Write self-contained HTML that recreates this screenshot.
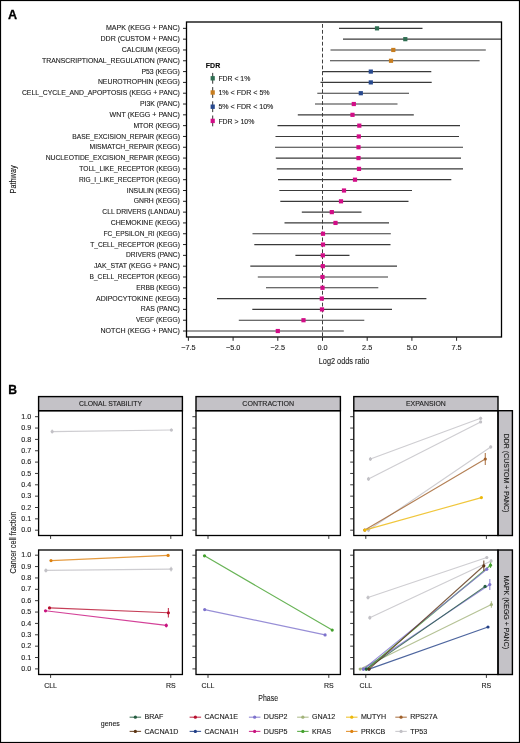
<!DOCTYPE html>
<html><head><meta charset="utf-8"><style>
html,body{margin:0;padding:0;background:#fff;width:520px;height:743px;overflow:hidden}
svg text{font-family:"Liberation Sans", sans-serif;stroke:#1c1c1c;stroke-width:0.12px}
</style></head><body>
<div style="will-change:transform;width:520px;height:743px"><svg width="520" height="743" viewBox="0 0 520 743" style="display:block">
<rect x="0.50" y="0.50" width="519.00" height="742.00" fill="none" stroke="#000" stroke-width="1.2"/>
<text x="8.00" y="18.80" font-size="13.3" text-anchor="start" fill="#000" font-weight="bold" textLength="9.1" lengthAdjust="spacingAndGlyphs" style="stroke:#000;stroke-width:0.3px">A</text>
<line x1="322.5" y1="24.0" x2="322.5" y2="337.0" stroke="#404040" stroke-width="1" stroke-dasharray="3.8 2.13"/>
<line x1="183.00" y1="28.35" x2="186.50" y2="28.35" stroke="#222" stroke-width="1"/>
<text x="179.90" y="30.40" font-size="7.3" text-anchor="end" fill="#1c1c1c" textLength="73.9" lengthAdjust="spacingAndGlyphs">MAPK (KEGG + PANC)</text>
<line x1="339.00" y1="28.35" x2="422.50" y2="28.35" stroke="#3a3a3a" stroke-width="1.15"/>
<rect x="374.90" y="26.25" width="4.20" height="4.20" fill="#2f6e52" stroke="none" stroke-width="1"/>
<line x1="183.00" y1="39.16" x2="186.50" y2="39.16" stroke="#222" stroke-width="1"/>
<text x="179.90" y="41.21" font-size="7.3" text-anchor="end" fill="#1c1c1c" textLength="79.4" lengthAdjust="spacingAndGlyphs">DDR (CUSTOM + PANC)</text>
<line x1="343.00" y1="39.16" x2="501.50" y2="39.16" stroke="#3a3a3a" stroke-width="1.15"/>
<rect x="403.20" y="37.06" width="4.20" height="4.20" fill="#2f6e52" stroke="none" stroke-width="1"/>
<line x1="183.00" y1="49.97" x2="186.50" y2="49.97" stroke="#222" stroke-width="1"/>
<text x="179.90" y="52.02" font-size="7.3" text-anchor="end" fill="#1c1c1c" textLength="58.2" lengthAdjust="spacingAndGlyphs">CALCIUM (KEGG)</text>
<line x1="330.50" y1="49.97" x2="485.80" y2="49.97" stroke="#3a3a3a" stroke-width="1.15"/>
<rect x="391.20" y="47.87" width="4.20" height="4.20" fill="#c77d1f" stroke="none" stroke-width="1"/>
<line x1="183.00" y1="60.78" x2="186.50" y2="60.78" stroke="#222" stroke-width="1"/>
<text x="179.90" y="62.83" font-size="7.3" text-anchor="end" fill="#1c1c1c" textLength="137.9" lengthAdjust="spacingAndGlyphs">TRANSCRIPTIONAL_REGULATION (PANC)</text>
<line x1="330.00" y1="60.78" x2="479.60" y2="60.78" stroke="#3a3a3a" stroke-width="1.15"/>
<rect x="388.90" y="58.68" width="4.20" height="4.20" fill="#c77d1f" stroke="none" stroke-width="1"/>
<line x1="183.00" y1="71.59" x2="186.50" y2="71.59" stroke="#222" stroke-width="1"/>
<text x="179.90" y="73.64" font-size="7.3" text-anchor="end" fill="#1c1c1c" textLength="38.5" lengthAdjust="spacingAndGlyphs">P53 (KEGG)</text>
<line x1="322.20" y1="71.59" x2="431.30" y2="71.59" stroke="#3a3a3a" stroke-width="1.15"/>
<rect x="368.70" y="69.49" width="4.20" height="4.20" fill="#27498e" stroke="none" stroke-width="1"/>
<line x1="183.00" y1="82.40" x2="186.50" y2="82.40" stroke="#222" stroke-width="1"/>
<text x="179.90" y="84.45" font-size="7.3" text-anchor="end" fill="#1c1c1c" textLength="82.0" lengthAdjust="spacingAndGlyphs">NEUROTROPHIN (KEGG)</text>
<line x1="320.50" y1="82.40" x2="431.70" y2="82.40" stroke="#3a3a3a" stroke-width="1.15"/>
<rect x="368.70" y="80.30" width="4.20" height="4.20" fill="#27498e" stroke="none" stroke-width="1"/>
<line x1="183.00" y1="93.21" x2="186.50" y2="93.21" stroke="#222" stroke-width="1"/>
<text x="179.90" y="95.26" font-size="7.3" text-anchor="end" fill="#1c1c1c" textLength="158.0" lengthAdjust="spacingAndGlyphs">CELL_CYCLE_AND_APOPTOSIS (KEGG + PANC)</text>
<line x1="317.30" y1="93.21" x2="409.00" y2="93.21" stroke="#3a3a3a" stroke-width="1.15"/>
<rect x="358.70" y="91.11" width="4.20" height="4.20" fill="#27498e" stroke="none" stroke-width="1"/>
<line x1="183.00" y1="104.02" x2="186.50" y2="104.02" stroke="#222" stroke-width="1"/>
<text x="179.90" y="106.07" font-size="7.3" text-anchor="end" fill="#1c1c1c" textLength="40.0" lengthAdjust="spacingAndGlyphs">PI3K (PANC)</text>
<line x1="315.00" y1="104.02" x2="397.50" y2="104.02" stroke="#3a3a3a" stroke-width="1.15"/>
<rect x="351.70" y="101.92" width="4.20" height="4.20" fill="#d20d87" stroke="none" stroke-width="1"/>
<line x1="183.00" y1="114.83" x2="186.50" y2="114.83" stroke="#222" stroke-width="1"/>
<text x="179.90" y="116.88" font-size="7.3" text-anchor="end" fill="#1c1c1c" textLength="70.3" lengthAdjust="spacingAndGlyphs">WNT (KEGG + PANC)</text>
<line x1="297.80" y1="114.83" x2="413.80" y2="114.83" stroke="#3a3a3a" stroke-width="1.15"/>
<rect x="350.40" y="112.73" width="4.20" height="4.20" fill="#d20d87" stroke="none" stroke-width="1"/>
<line x1="183.00" y1="125.64" x2="186.50" y2="125.64" stroke="#222" stroke-width="1"/>
<text x="179.90" y="127.69" font-size="7.3" text-anchor="end" fill="#1c1c1c" textLength="46.5" lengthAdjust="spacingAndGlyphs">MTOR (KEGG)</text>
<line x1="277.50" y1="125.64" x2="460.00" y2="125.64" stroke="#3a3a3a" stroke-width="1.15"/>
<rect x="357.20" y="123.54" width="4.20" height="4.20" fill="#d20d87" stroke="none" stroke-width="1"/>
<line x1="183.00" y1="136.45" x2="186.50" y2="136.45" stroke="#222" stroke-width="1"/>
<text x="179.90" y="138.50" font-size="7.3" text-anchor="end" fill="#1c1c1c" textLength="107.6" lengthAdjust="spacingAndGlyphs">BASE_EXCISION_REPAIR (KEGG)</text>
<line x1="275.50" y1="136.45" x2="459.00" y2="136.45" stroke="#3a3a3a" stroke-width="1.15"/>
<rect x="356.70" y="134.35" width="4.20" height="4.20" fill="#d20d87" stroke="none" stroke-width="1"/>
<line x1="183.00" y1="147.26" x2="186.50" y2="147.26" stroke="#222" stroke-width="1"/>
<text x="179.90" y="149.31" font-size="7.3" text-anchor="end" fill="#1c1c1c" textLength="90.4" lengthAdjust="spacingAndGlyphs">MISMATCH_REPAIR (KEGG)</text>
<line x1="275.00" y1="147.26" x2="463.00" y2="147.26" stroke="#3a3a3a" stroke-width="1.15"/>
<rect x="356.40" y="145.16" width="4.20" height="4.20" fill="#d20d87" stroke="none" stroke-width="1"/>
<line x1="183.00" y1="158.07" x2="186.50" y2="158.07" stroke="#222" stroke-width="1"/>
<text x="179.90" y="160.12" font-size="7.3" text-anchor="end" fill="#1c1c1c" textLength="134.2" lengthAdjust="spacingAndGlyphs">NUCLEOTIDE_EXCISION_REPAIR (KEGG)</text>
<line x1="275.80" y1="158.07" x2="461.00" y2="158.07" stroke="#3a3a3a" stroke-width="1.15"/>
<rect x="356.40" y="155.97" width="4.20" height="4.20" fill="#d20d87" stroke="none" stroke-width="1"/>
<line x1="183.00" y1="168.88" x2="186.50" y2="168.88" stroke="#222" stroke-width="1"/>
<text x="179.90" y="170.93" font-size="7.3" text-anchor="end" fill="#1c1c1c" textLength="100.6" lengthAdjust="spacingAndGlyphs">TOLL_LIKE_RECEPTOR (KEGG)</text>
<line x1="276.80" y1="168.88" x2="463.00" y2="168.88" stroke="#3a3a3a" stroke-width="1.15"/>
<rect x="356.90" y="166.78" width="4.20" height="4.20" fill="#d20d87" stroke="none" stroke-width="1"/>
<line x1="183.00" y1="179.69" x2="186.50" y2="179.69" stroke="#222" stroke-width="1"/>
<text x="179.90" y="181.74" font-size="7.3" text-anchor="end" fill="#1c1c1c" textLength="101.0" lengthAdjust="spacingAndGlyphs">RIG_I_LIKE_RECEPTOR (KEGG)</text>
<line x1="278.00" y1="179.69" x2="451.30" y2="179.69" stroke="#3a3a3a" stroke-width="1.15"/>
<rect x="352.90" y="177.59" width="4.20" height="4.20" fill="#d20d87" stroke="none" stroke-width="1"/>
<line x1="183.00" y1="190.50" x2="186.50" y2="190.50" stroke="#222" stroke-width="1"/>
<text x="179.90" y="192.55" font-size="7.3" text-anchor="end" fill="#1c1c1c" textLength="53.1" lengthAdjust="spacingAndGlyphs">INSULIN (KEGG)</text>
<line x1="279.30" y1="190.50" x2="412.00" y2="190.50" stroke="#3a3a3a" stroke-width="1.15"/>
<rect x="341.90" y="188.40" width="4.20" height="4.20" fill="#d20d87" stroke="none" stroke-width="1"/>
<line x1="183.00" y1="201.31" x2="186.50" y2="201.31" stroke="#222" stroke-width="1"/>
<text x="179.90" y="203.36" font-size="7.3" text-anchor="end" fill="#1c1c1c" textLength="46.2" lengthAdjust="spacingAndGlyphs">GNRH (KEGG)</text>
<line x1="280.30" y1="201.31" x2="408.50" y2="201.31" stroke="#3a3a3a" stroke-width="1.15"/>
<rect x="338.90" y="199.21" width="4.20" height="4.20" fill="#d20d87" stroke="none" stroke-width="1"/>
<line x1="183.00" y1="212.12" x2="186.50" y2="212.12" stroke="#222" stroke-width="1"/>
<text x="179.90" y="214.17" font-size="7.3" text-anchor="end" fill="#1c1c1c" textLength="77.6" lengthAdjust="spacingAndGlyphs">CLL DRIVERS (LANDAU)</text>
<line x1="301.80" y1="212.12" x2="361.50" y2="212.12" stroke="#3a3a3a" stroke-width="1.15"/>
<rect x="329.70" y="210.02" width="4.20" height="4.20" fill="#d20d87" stroke="none" stroke-width="1"/>
<line x1="183.00" y1="222.93" x2="186.50" y2="222.93" stroke="#222" stroke-width="1"/>
<text x="179.90" y="224.98" font-size="7.3" text-anchor="end" fill="#1c1c1c" textLength="69.2" lengthAdjust="spacingAndGlyphs">CHEMOKINE (KEGG)</text>
<line x1="284.50" y1="222.93" x2="389.00" y2="222.93" stroke="#3a3a3a" stroke-width="1.15"/>
<rect x="333.40" y="220.83" width="4.20" height="4.20" fill="#d20d87" stroke="none" stroke-width="1"/>
<line x1="183.00" y1="233.74" x2="186.50" y2="233.74" stroke="#222" stroke-width="1"/>
<text x="179.90" y="235.79" font-size="7.3" text-anchor="end" fill="#1c1c1c" textLength="76.5" lengthAdjust="spacingAndGlyphs">FC_EPSILON_RI (KEGG)</text>
<line x1="252.50" y1="233.74" x2="390.80" y2="233.74" stroke="#3a3a3a" stroke-width="1.15"/>
<rect x="320.90" y="231.64" width="4.20" height="4.20" fill="#d20d87" stroke="none" stroke-width="1"/>
<line x1="183.00" y1="244.55" x2="186.50" y2="244.55" stroke="#222" stroke-width="1"/>
<text x="179.90" y="246.60" font-size="7.3" text-anchor="end" fill="#1c1c1c" textLength="89.7" lengthAdjust="spacingAndGlyphs">T_CELL_RECEPTOR (KEGG)</text>
<line x1="254.30" y1="244.55" x2="390.50" y2="244.55" stroke="#3a3a3a" stroke-width="1.15"/>
<rect x="320.90" y="242.45" width="4.20" height="4.20" fill="#d20d87" stroke="none" stroke-width="1"/>
<line x1="183.00" y1="255.36" x2="186.50" y2="255.36" stroke="#222" stroke-width="1"/>
<text x="179.90" y="257.41" font-size="7.3" text-anchor="end" fill="#1c1c1c" textLength="53.9" lengthAdjust="spacingAndGlyphs">DRIVERS (PANC)</text>
<line x1="295.40" y1="255.36" x2="349.50" y2="255.36" stroke="#3a3a3a" stroke-width="1.15"/>
<rect x="320.70" y="253.26" width="4.20" height="4.20" fill="#d20d87" stroke="none" stroke-width="1"/>
<line x1="183.00" y1="266.17" x2="186.50" y2="266.17" stroke="#222" stroke-width="1"/>
<text x="179.90" y="268.22" font-size="7.3" text-anchor="end" fill="#1c1c1c" textLength="86.0" lengthAdjust="spacingAndGlyphs">JAK_STAT (KEGG + PANC)</text>
<line x1="250.30" y1="266.17" x2="397.00" y2="266.17" stroke="#3a3a3a" stroke-width="1.15"/>
<rect x="320.70" y="264.07" width="4.20" height="4.20" fill="#d20d87" stroke="none" stroke-width="1"/>
<line x1="183.00" y1="276.98" x2="186.50" y2="276.98" stroke="#222" stroke-width="1"/>
<text x="179.90" y="279.03" font-size="7.3" text-anchor="end" fill="#1c1c1c" textLength="90.4" lengthAdjust="spacingAndGlyphs">B_CELL_RECEPTOR (KEGG)</text>
<line x1="257.80" y1="276.98" x2="388.00" y2="276.98" stroke="#3a3a3a" stroke-width="1.15"/>
<rect x="320.40" y="274.88" width="4.20" height="4.20" fill="#d20d87" stroke="none" stroke-width="1"/>
<line x1="183.00" y1="287.79" x2="186.50" y2="287.79" stroke="#222" stroke-width="1"/>
<text x="179.90" y="289.84" font-size="7.3" text-anchor="end" fill="#1c1c1c" textLength="43.6" lengthAdjust="spacingAndGlyphs">ERBB (KEGG)</text>
<line x1="266.00" y1="287.79" x2="378.30" y2="287.79" stroke="#3a3a3a" stroke-width="1.15"/>
<rect x="320.40" y="285.69" width="4.20" height="4.20" fill="#d20d87" stroke="none" stroke-width="1"/>
<line x1="183.00" y1="298.60" x2="186.50" y2="298.60" stroke="#222" stroke-width="1"/>
<text x="179.90" y="300.65" font-size="7.3" text-anchor="end" fill="#1c1c1c" textLength="83.8" lengthAdjust="spacingAndGlyphs">ADIPOCYTOKINE (KEGG)</text>
<line x1="217.00" y1="298.60" x2="426.40" y2="298.60" stroke="#3a3a3a" stroke-width="1.15"/>
<rect x="319.70" y="296.50" width="4.20" height="4.20" fill="#d20d87" stroke="none" stroke-width="1"/>
<line x1="183.00" y1="309.41" x2="186.50" y2="309.41" stroke="#222" stroke-width="1"/>
<text x="179.90" y="311.46" font-size="7.3" text-anchor="end" fill="#1c1c1c" textLength="39.2" lengthAdjust="spacingAndGlyphs">RAS (PANC)</text>
<line x1="252.30" y1="309.41" x2="392.00" y2="309.41" stroke="#3a3a3a" stroke-width="1.15"/>
<rect x="319.90" y="307.31" width="4.20" height="4.20" fill="#d20d87" stroke="none" stroke-width="1"/>
<line x1="183.00" y1="320.22" x2="186.50" y2="320.22" stroke="#222" stroke-width="1"/>
<text x="179.90" y="322.27" font-size="7.3" text-anchor="end" fill="#1c1c1c" textLength="44.0" lengthAdjust="spacingAndGlyphs">VEGF (KEGG)</text>
<line x1="238.80" y1="320.22" x2="364.30" y2="320.22" stroke="#3a3a3a" stroke-width="1.15"/>
<rect x="301.40" y="318.12" width="4.20" height="4.20" fill="#d20d87" stroke="none" stroke-width="1"/>
<line x1="183.00" y1="331.03" x2="186.50" y2="331.03" stroke="#222" stroke-width="1"/>
<text x="179.90" y="333.08" font-size="7.3" text-anchor="end" fill="#1c1c1c" textLength="79.4" lengthAdjust="spacingAndGlyphs">NOTCH (KEGG + PANC)</text>
<line x1="186.50" y1="331.03" x2="343.80" y2="331.03" stroke="#3a3a3a" stroke-width="1.15"/>
<rect x="275.70" y="328.93" width="4.20" height="4.20" fill="#d20d87" stroke="none" stroke-width="1"/>
<rect x="186.50" y="22.00" width="315.00" height="315.00" fill="none" stroke="#000" stroke-width="1.3"/>
<line x1="188.40" y1="337.00" x2="188.40" y2="340.80" stroke="#222" stroke-width="1"/>
<text x="188.40" y="350.30" font-size="7.3" text-anchor="middle" fill="#1c1c1c">−7.5</text>
<line x1="233.10" y1="337.00" x2="233.10" y2="340.80" stroke="#222" stroke-width="1"/>
<text x="233.10" y="350.30" font-size="7.3" text-anchor="middle" fill="#1c1c1c">−5.0</text>
<line x1="277.80" y1="337.00" x2="277.80" y2="340.80" stroke="#222" stroke-width="1"/>
<text x="277.80" y="350.30" font-size="7.3" text-anchor="middle" fill="#1c1c1c">−2.5</text>
<line x1="322.50" y1="337.00" x2="322.50" y2="340.80" stroke="#222" stroke-width="1"/>
<text x="322.50" y="350.30" font-size="7.3" text-anchor="middle" fill="#1c1c1c">0.0</text>
<line x1="367.20" y1="337.00" x2="367.20" y2="340.80" stroke="#222" stroke-width="1"/>
<text x="367.20" y="350.30" font-size="7.3" text-anchor="middle" fill="#1c1c1c">2.5</text>
<line x1="411.90" y1="337.00" x2="411.90" y2="340.80" stroke="#222" stroke-width="1"/>
<text x="411.90" y="350.30" font-size="7.3" text-anchor="middle" fill="#1c1c1c">5.0</text>
<line x1="456.60" y1="337.00" x2="456.60" y2="340.80" stroke="#222" stroke-width="1"/>
<text x="456.60" y="350.30" font-size="7.3" text-anchor="middle" fill="#1c1c1c">7.5</text>
<text x="344.00" y="363.60" font-size="9.5" text-anchor="middle" fill="#1c1c1c" textLength="50.5" lengthAdjust="spacingAndGlyphs">Log2 odds ratio</text>
<text x="16.30" y="179.40" font-size="9.5" text-anchor="middle" fill="#1c1c1c" textLength="28" lengthAdjust="spacingAndGlyphs" transform="rotate(-90 16.30 179.40)">Pathway</text>
<text x="205.80" y="67.50" font-size="7" text-anchor="start" fill="#000" font-weight="bold">FDR</text>
<line x1="212.70" y1="72.90" x2="212.70" y2="83.70" stroke="#333" stroke-width="1"/>
<rect x="210.60" y="76.10" width="4.20" height="4.40" fill="#2f6e52" stroke="none" stroke-width="1"/>
<text x="218.40" y="80.90" font-size="7.3" text-anchor="start" fill="#1c1c1c" textLength="31.9" lengthAdjust="spacingAndGlyphs">FDR &lt; 1%</text>
<line x1="212.70" y1="87.10" x2="212.70" y2="97.90" stroke="#333" stroke-width="1"/>
<rect x="210.60" y="90.30" width="4.20" height="4.40" fill="#c77d1f" stroke="none" stroke-width="1"/>
<text x="218.40" y="95.10" font-size="7.3" text-anchor="start" fill="#1c1c1c" textLength="51.3" lengthAdjust="spacingAndGlyphs">1% &lt; FDR &lt; 5%</text>
<line x1="212.70" y1="101.30" x2="212.70" y2="112.10" stroke="#333" stroke-width="1"/>
<rect x="210.60" y="104.50" width="4.20" height="4.40" fill="#27498e" stroke="none" stroke-width="1"/>
<text x="218.40" y="109.30" font-size="7.3" text-anchor="start" fill="#1c1c1c" textLength="55.0" lengthAdjust="spacingAndGlyphs">5% &lt; FDR &lt; 10%</text>
<line x1="212.70" y1="115.50" x2="212.70" y2="126.30" stroke="#333" stroke-width="1"/>
<rect x="210.60" y="118.70" width="4.20" height="4.40" fill="#d20d87" stroke="none" stroke-width="1"/>
<text x="218.40" y="123.50" font-size="7.3" text-anchor="start" fill="#1c1c1c" textLength="36.0" lengthAdjust="spacingAndGlyphs">FDR &gt; 10%</text>
<text x="8.20" y="393.70" font-size="13.3" text-anchor="start" fill="#000" font-weight="bold" textLength="8.8" lengthAdjust="spacingAndGlyphs" style="stroke:#000;stroke-width:0.3px">B</text>
<rect x="38.60" y="396.60" width="143.80" height="14.10" fill="#c4c2c7" stroke="#000" stroke-width="1.4"/>
<text x="110.50" y="405.90" font-size="7.3" text-anchor="middle" fill="#1c1c1c" textLength="63" lengthAdjust="spacingAndGlyphs">CLONAL STABILITY</text>
<rect x="196.00" y="396.60" width="144.40" height="14.10" fill="#c4c2c7" stroke="#000" stroke-width="1.4"/>
<text x="268.20" y="405.90" font-size="7.3" text-anchor="middle" fill="#1c1c1c" textLength="51.8" lengthAdjust="spacingAndGlyphs">CONTRACTION</text>
<rect x="353.80" y="396.60" width="144.20" height="14.10" fill="#c4c2c7" stroke="#000" stroke-width="1.4"/>
<text x="425.90" y="405.90" font-size="7.3" text-anchor="middle" fill="#1c1c1c" textLength="39.9" lengthAdjust="spacingAndGlyphs">EXPANSION</text>
<rect x="498.00" y="410.70" width="14.40" height="124.80" fill="#c4c2c7" stroke="#000" stroke-width="1.4"/>
<text x="503.80" y="473.10" font-size="7.3" text-anchor="middle" fill="#1c1c1c" textLength="78.6" lengthAdjust="spacingAndGlyphs" transform="rotate(90 503.80 473.10)">DDR (CUSTOM + PANC)</text>
<rect x="498.00" y="550.00" width="14.40" height="124.50" fill="#c4c2c7" stroke="#000" stroke-width="1.4"/>
<text x="503.80" y="612.25" font-size="7.3" text-anchor="middle" fill="#1c1c1c" textLength="73.7" lengthAdjust="spacingAndGlyphs" transform="rotate(90 503.80 612.25)">MAPK (KEGG + PANC)</text>
<line x1="52.20" y1="431.60" x2="171.40" y2="430.00" stroke="#c2c1c6" stroke-width="1.15" stroke-linecap="round" stroke-opacity="0.8"/>
<line x1="171.40" y1="428.50" x2="171.40" y2="431.50" stroke="#c2c1c6" stroke-width="1.15" stroke-opacity="0.8"/>
<line x1="52.20" y1="429.60" x2="52.20" y2="433.60" stroke="#c2c1c6" stroke-width="1.15" stroke-opacity="0.8"/>
<circle cx="52.20" cy="431.60" r="1.6" fill="#c2c1c6"/>
<circle cx="171.40" cy="430.00" r="1.6" fill="#c2c1c6"/>
<line x1="370.40" y1="459.00" x2="480.60" y2="418.30" stroke="#c2c1c6" stroke-width="1.15" stroke-linecap="round" stroke-opacity="0.8"/>
<line x1="480.60" y1="416.80" x2="480.60" y2="419.80" stroke="#c2c1c6" stroke-width="1.15" stroke-opacity="0.8"/>
<line x1="370.40" y1="457.00" x2="370.40" y2="461.00" stroke="#c2c1c6" stroke-width="1.15" stroke-opacity="0.8"/>
<circle cx="370.40" cy="459.00" r="1.6" fill="#c2c1c6"/>
<circle cx="480.60" cy="418.30" r="1.6" fill="#c2c1c6"/>
<line x1="368.50" y1="478.90" x2="480.60" y2="421.90" stroke="#c2c1c6" stroke-width="1.15" stroke-linecap="round" stroke-opacity="0.8"/>
<line x1="480.60" y1="420.90" x2="480.60" y2="422.90" stroke="#c2c1c6" stroke-width="1.15" stroke-opacity="0.8"/>
<line x1="368.50" y1="476.90" x2="368.50" y2="480.90" stroke="#c2c1c6" stroke-width="1.15" stroke-opacity="0.8"/>
<circle cx="368.50" cy="478.90" r="1.6" fill="#c2c1c6"/>
<circle cx="480.60" cy="421.90" r="1.6" fill="#c2c1c6"/>
<line x1="368.50" y1="530.10" x2="490.70" y2="446.90" stroke="#c2c1c6" stroke-width="1.15" stroke-linecap="round" stroke-opacity="0.8"/>
<line x1="490.70" y1="445.40" x2="490.70" y2="448.40" stroke="#c2c1c6" stroke-width="1.15" stroke-opacity="0.8"/>
<line x1="368.50" y1="528.10" x2="368.50" y2="532.10" stroke="#c2c1c6" stroke-width="1.15" stroke-opacity="0.8"/>
<circle cx="368.50" cy="530.10" r="1.6" fill="#c2c1c6"/>
<circle cx="490.70" cy="446.90" r="1.6" fill="#c2c1c6"/>
<line x1="364.80" y1="530.10" x2="485.30" y2="459.00" stroke="#a0602a" stroke-width="1.15" stroke-linecap="round" stroke-opacity="0.8"/>
<line x1="485.30" y1="453.00" x2="485.30" y2="465.00" stroke="#a0602a" stroke-width="1.15" stroke-opacity="0.8"/>
<circle cx="364.80" cy="530.10" r="1.6" fill="#a0602a"/>
<circle cx="485.30" cy="459.00" r="1.6" fill="#a0602a"/>
<line x1="364.80" y1="530.10" x2="481.40" y2="497.60" stroke="#ecb80a" stroke-width="1.15" stroke-linecap="round" stroke-opacity="0.8"/>
<circle cx="364.80" cy="530.10" r="1.6" fill="#ecb80a"/>
<circle cx="481.40" cy="497.60" r="1.6" fill="#ecb80a"/>
<line x1="51.00" y1="560.60" x2="168.10" y2="555.40" stroke="#de8210" stroke-width="1.15" stroke-linecap="round" stroke-opacity="0.8"/>
<circle cx="51.00" cy="560.60" r="1.6" fill="#de8210"/>
<circle cx="168.10" cy="555.40" r="1.6" fill="#de8210"/>
<line x1="45.90" y1="570.40" x2="171.10" y2="569.10" stroke="#c2c1c6" stroke-width="1.15" stroke-linecap="round" stroke-opacity="0.8"/>
<line x1="171.10" y1="566.70" x2="171.10" y2="571.50" stroke="#c2c1c6" stroke-width="1.15" stroke-opacity="0.8"/>
<line x1="45.90" y1="568.40" x2="45.90" y2="572.40" stroke="#c2c1c6" stroke-width="1.15" stroke-opacity="0.8"/>
<circle cx="45.90" cy="570.40" r="1.6" fill="#c2c1c6"/>
<circle cx="171.10" cy="569.10" r="1.6" fill="#c2c1c6"/>
<line x1="49.50" y1="607.90" x2="168.40" y2="612.80" stroke="#b80f2e" stroke-width="1.15" stroke-linecap="round" stroke-opacity="0.8"/>
<line x1="168.40" y1="608.00" x2="168.40" y2="617.60" stroke="#b80f2e" stroke-width="1.15" stroke-opacity="0.8"/>
<circle cx="49.50" cy="607.90" r="1.6" fill="#b80f2e"/>
<circle cx="168.40" cy="612.80" r="1.6" fill="#b80f2e"/>
<line x1="45.50" y1="610.80" x2="166.30" y2="625.40" stroke="#c8127e" stroke-width="1.15" stroke-linecap="round" stroke-opacity="0.8"/>
<line x1="166.30" y1="623.40" x2="166.30" y2="627.40" stroke="#c8127e" stroke-width="1.15" stroke-opacity="0.8"/>
<circle cx="45.50" cy="610.80" r="1.6" fill="#c8127e"/>
<circle cx="166.30" cy="625.40" r="1.6" fill="#c8127e"/>
<line x1="204.50" y1="555.80" x2="332.20" y2="630.10" stroke="#42a02c" stroke-width="1.15" stroke-linecap="round" stroke-opacity="0.8"/>
<circle cx="204.50" cy="555.80" r="1.6" fill="#42a02c"/>
<circle cx="332.20" cy="630.10" r="1.6" fill="#42a02c"/>
<line x1="204.70" y1="609.60" x2="325.10" y2="634.90" stroke="#7d72cc" stroke-width="1.15" stroke-linecap="round" stroke-opacity="0.8"/>
<circle cx="204.70" cy="609.60" r="1.6" fill="#7d72cc"/>
<circle cx="325.10" cy="634.90" r="1.6" fill="#7d72cc"/>
<line x1="368.00" y1="597.50" x2="486.80" y2="557.50" stroke="#c2c1c6" stroke-width="1.15" stroke-linecap="round" stroke-opacity="0.8"/>
<line x1="486.80" y1="556.00" x2="486.80" y2="559.00" stroke="#c2c1c6" stroke-width="1.15" stroke-opacity="0.8"/>
<line x1="368.00" y1="595.50" x2="368.00" y2="599.50" stroke="#c2c1c6" stroke-width="1.15" stroke-opacity="0.8"/>
<circle cx="368.00" cy="597.50" r="1.6" fill="#c2c1c6"/>
<circle cx="486.80" cy="557.50" r="1.6" fill="#c2c1c6"/>
<line x1="369.80" y1="617.70" x2="491.10" y2="560.90" stroke="#c2c1c6" stroke-width="1.15" stroke-linecap="round" stroke-opacity="0.8"/>
<line x1="491.10" y1="559.40" x2="491.10" y2="562.40" stroke="#c2c1c6" stroke-width="1.15" stroke-opacity="0.8"/>
<line x1="369.80" y1="615.70" x2="369.80" y2="619.70" stroke="#c2c1c6" stroke-width="1.15" stroke-opacity="0.8"/>
<circle cx="369.80" cy="617.70" r="1.6" fill="#c2c1c6"/>
<circle cx="491.10" cy="560.90" r="1.6" fill="#c2c1c6"/>
<line x1="360.20" y1="669.10" x2="491.40" y2="604.50" stroke="#a2b37a" stroke-width="1.15" stroke-linecap="round" stroke-opacity="0.8"/>
<line x1="491.40" y1="601.20" x2="491.40" y2="607.80" stroke="#a2b37a" stroke-width="1.15" stroke-opacity="0.8"/>
<circle cx="360.20" cy="669.10" r="1.6" fill="#a2b37a"/>
<circle cx="491.40" cy="604.50" r="1.6" fill="#a2b37a"/>
<line x1="363.40" y1="669.10" x2="489.80" y2="584.50" stroke="#7d72cc" stroke-width="1.15" stroke-linecap="round" stroke-opacity="0.8"/>
<line x1="489.80" y1="579.00" x2="489.80" y2="590.00" stroke="#7d72cc" stroke-width="1.15" stroke-opacity="0.8"/>
<circle cx="363.40" cy="669.10" r="1.6" fill="#7d72cc"/>
<circle cx="489.80" cy="584.50" r="1.6" fill="#7d72cc"/>
<line x1="369.00" y1="669.10" x2="488.00" y2="627.00" stroke="#213f86" stroke-width="1.15" stroke-linecap="round" stroke-opacity="0.8"/>
<circle cx="369.00" cy="669.10" r="1.6" fill="#213f86"/>
<circle cx="488.00" cy="627.00" r="1.6" fill="#213f86"/>
<line x1="366.30" y1="669.10" x2="490.50" y2="565.20" stroke="#42a02c" stroke-width="1.15" stroke-linecap="round" stroke-opacity="0.8"/>
<line x1="490.50" y1="562.40" x2="490.50" y2="568.00" stroke="#42a02c" stroke-width="1.15" stroke-opacity="0.8"/>
<circle cx="366.30" cy="669.10" r="1.6" fill="#42a02c"/>
<circle cx="490.50" cy="565.20" r="1.6" fill="#42a02c"/>
<line x1="363.40" y1="669.10" x2="486.80" y2="569.20" stroke="#7d72cc" stroke-width="1.15" stroke-linecap="round" stroke-opacity="0.8"/>
<line x1="486.80" y1="567.70" x2="486.80" y2="570.70" stroke="#7d72cc" stroke-width="1.15" stroke-opacity="0.8"/>
<circle cx="363.40" cy="669.10" r="1.6" fill="#7d72cc"/>
<circle cx="486.80" cy="569.20" r="1.6" fill="#7d72cc"/>
<line x1="366.30" y1="669.10" x2="485.10" y2="586.40" stroke="#245c40" stroke-width="1.15" stroke-linecap="round" stroke-opacity="0.8"/>
<circle cx="366.30" cy="669.10" r="1.6" fill="#245c40"/>
<circle cx="485.10" cy="586.40" r="1.6" fill="#245c40"/>
<line x1="369.00" y1="669.10" x2="483.80" y2="565.80" stroke="#5c3514" stroke-width="1.15" stroke-linecap="round" stroke-opacity="0.8"/>
<line x1="483.80" y1="560.60" x2="483.80" y2="571.00" stroke="#5c3514" stroke-width="1.15" stroke-opacity="0.8"/>
<circle cx="369.00" cy="669.10" r="1.6" fill="#5c3514"/>
<circle cx="483.80" cy="565.80" r="1.6" fill="#5c3514"/>
<rect x="38.60" y="410.70" width="143.80" height="124.80" fill="none" stroke="#000" stroke-width="1.3"/>
<line x1="35.00" y1="530.20" x2="38.60" y2="530.20" stroke="#222" stroke-width="0.9"/>
<line x1="35.00" y1="518.85" x2="38.60" y2="518.85" stroke="#222" stroke-width="0.9"/>
<line x1="35.00" y1="507.50" x2="38.60" y2="507.50" stroke="#222" stroke-width="0.9"/>
<line x1="35.00" y1="496.15" x2="38.60" y2="496.15" stroke="#222" stroke-width="0.9"/>
<line x1="35.00" y1="484.80" x2="38.60" y2="484.80" stroke="#222" stroke-width="0.9"/>
<line x1="35.00" y1="473.45" x2="38.60" y2="473.45" stroke="#222" stroke-width="0.9"/>
<line x1="35.00" y1="462.10" x2="38.60" y2="462.10" stroke="#222" stroke-width="0.9"/>
<line x1="35.00" y1="450.75" x2="38.60" y2="450.75" stroke="#222" stroke-width="0.9"/>
<line x1="35.00" y1="439.40" x2="38.60" y2="439.40" stroke="#222" stroke-width="0.9"/>
<line x1="35.00" y1="428.05" x2="38.60" y2="428.05" stroke="#222" stroke-width="0.9"/>
<line x1="35.00" y1="416.70" x2="38.60" y2="416.70" stroke="#222" stroke-width="0.9"/>
<line x1="50.60" y1="535.50" x2="50.60" y2="538.90" stroke="#222" stroke-width="0.9"/>
<line x1="170.80" y1="535.50" x2="170.80" y2="538.90" stroke="#222" stroke-width="0.9"/>
<rect x="196.00" y="410.70" width="144.40" height="124.80" fill="none" stroke="#000" stroke-width="1.3"/>
<line x1="192.40" y1="530.20" x2="196.00" y2="530.20" stroke="#222" stroke-width="0.9"/>
<line x1="192.40" y1="518.85" x2="196.00" y2="518.85" stroke="#222" stroke-width="0.9"/>
<line x1="192.40" y1="507.50" x2="196.00" y2="507.50" stroke="#222" stroke-width="0.9"/>
<line x1="192.40" y1="496.15" x2="196.00" y2="496.15" stroke="#222" stroke-width="0.9"/>
<line x1="192.40" y1="484.80" x2="196.00" y2="484.80" stroke="#222" stroke-width="0.9"/>
<line x1="192.40" y1="473.45" x2="196.00" y2="473.45" stroke="#222" stroke-width="0.9"/>
<line x1="192.40" y1="462.10" x2="196.00" y2="462.10" stroke="#222" stroke-width="0.9"/>
<line x1="192.40" y1="450.75" x2="196.00" y2="450.75" stroke="#222" stroke-width="0.9"/>
<line x1="192.40" y1="439.40" x2="196.00" y2="439.40" stroke="#222" stroke-width="0.9"/>
<line x1="192.40" y1="428.05" x2="196.00" y2="428.05" stroke="#222" stroke-width="0.9"/>
<line x1="192.40" y1="416.70" x2="196.00" y2="416.70" stroke="#222" stroke-width="0.9"/>
<line x1="208.00" y1="535.50" x2="208.00" y2="538.90" stroke="#222" stroke-width="0.9"/>
<line x1="328.80" y1="535.50" x2="328.80" y2="538.90" stroke="#222" stroke-width="0.9"/>
<rect x="353.80" y="410.70" width="144.20" height="124.80" fill="none" stroke="#000" stroke-width="1.3"/>
<line x1="350.20" y1="530.20" x2="353.80" y2="530.20" stroke="#222" stroke-width="0.9"/>
<line x1="350.20" y1="518.85" x2="353.80" y2="518.85" stroke="#222" stroke-width="0.9"/>
<line x1="350.20" y1="507.50" x2="353.80" y2="507.50" stroke="#222" stroke-width="0.9"/>
<line x1="350.20" y1="496.15" x2="353.80" y2="496.15" stroke="#222" stroke-width="0.9"/>
<line x1="350.20" y1="484.80" x2="353.80" y2="484.80" stroke="#222" stroke-width="0.9"/>
<line x1="350.20" y1="473.45" x2="353.80" y2="473.45" stroke="#222" stroke-width="0.9"/>
<line x1="350.20" y1="462.10" x2="353.80" y2="462.10" stroke="#222" stroke-width="0.9"/>
<line x1="350.20" y1="450.75" x2="353.80" y2="450.75" stroke="#222" stroke-width="0.9"/>
<line x1="350.20" y1="439.40" x2="353.80" y2="439.40" stroke="#222" stroke-width="0.9"/>
<line x1="350.20" y1="428.05" x2="353.80" y2="428.05" stroke="#222" stroke-width="0.9"/>
<line x1="350.20" y1="416.70" x2="353.80" y2="416.70" stroke="#222" stroke-width="0.9"/>
<line x1="365.80" y1="535.50" x2="365.80" y2="538.90" stroke="#222" stroke-width="0.9"/>
<line x1="486.40" y1="535.50" x2="486.40" y2="538.90" stroke="#222" stroke-width="0.9"/>
<text x="31.20" y="532.30" font-size="7.1" text-anchor="end" fill="#1c1c1c">0.0</text>
<text x="31.20" y="520.95" font-size="7.1" text-anchor="end" fill="#1c1c1c">0.1</text>
<text x="31.20" y="509.60" font-size="7.1" text-anchor="end" fill="#1c1c1c">0.2</text>
<text x="31.20" y="498.25" font-size="7.1" text-anchor="end" fill="#1c1c1c">0.3</text>
<text x="31.20" y="486.90" font-size="7.1" text-anchor="end" fill="#1c1c1c">0.4</text>
<text x="31.20" y="475.55" font-size="7.1" text-anchor="end" fill="#1c1c1c">0.5</text>
<text x="31.20" y="464.20" font-size="7.1" text-anchor="end" fill="#1c1c1c">0.6</text>
<text x="31.20" y="452.85" font-size="7.1" text-anchor="end" fill="#1c1c1c">0.7</text>
<text x="31.20" y="441.50" font-size="7.1" text-anchor="end" fill="#1c1c1c">0.8</text>
<text x="31.20" y="430.15" font-size="7.1" text-anchor="end" fill="#1c1c1c">0.9</text>
<text x="31.20" y="418.80" font-size="7.1" text-anchor="end" fill="#1c1c1c">1.0</text>
<rect x="38.60" y="550.00" width="143.80" height="124.50" fill="none" stroke="#000" stroke-width="1.3"/>
<line x1="35.00" y1="668.90" x2="38.60" y2="668.90" stroke="#222" stroke-width="0.9"/>
<line x1="35.00" y1="657.53" x2="38.60" y2="657.53" stroke="#222" stroke-width="0.9"/>
<line x1="35.00" y1="646.16" x2="38.60" y2="646.16" stroke="#222" stroke-width="0.9"/>
<line x1="35.00" y1="634.79" x2="38.60" y2="634.79" stroke="#222" stroke-width="0.9"/>
<line x1="35.00" y1="623.42" x2="38.60" y2="623.42" stroke="#222" stroke-width="0.9"/>
<line x1="35.00" y1="612.05" x2="38.60" y2="612.05" stroke="#222" stroke-width="0.9"/>
<line x1="35.00" y1="600.68" x2="38.60" y2="600.68" stroke="#222" stroke-width="0.9"/>
<line x1="35.00" y1="589.31" x2="38.60" y2="589.31" stroke="#222" stroke-width="0.9"/>
<line x1="35.00" y1="577.94" x2="38.60" y2="577.94" stroke="#222" stroke-width="0.9"/>
<line x1="35.00" y1="566.57" x2="38.60" y2="566.57" stroke="#222" stroke-width="0.9"/>
<line x1="35.00" y1="555.20" x2="38.60" y2="555.20" stroke="#222" stroke-width="0.9"/>
<line x1="50.60" y1="674.50" x2="50.60" y2="677.90" stroke="#222" stroke-width="0.9"/>
<line x1="170.80" y1="674.50" x2="170.80" y2="677.90" stroke="#222" stroke-width="0.9"/>
<text x="50.60" y="687.80" font-size="7" text-anchor="middle" fill="#1c1c1c">CLL</text>
<text x="170.80" y="687.80" font-size="7" text-anchor="middle" fill="#1c1c1c">RS</text>
<rect x="196.00" y="550.00" width="144.40" height="124.50" fill="none" stroke="#000" stroke-width="1.3"/>
<line x1="192.40" y1="668.90" x2="196.00" y2="668.90" stroke="#222" stroke-width="0.9"/>
<line x1="192.40" y1="657.53" x2="196.00" y2="657.53" stroke="#222" stroke-width="0.9"/>
<line x1="192.40" y1="646.16" x2="196.00" y2="646.16" stroke="#222" stroke-width="0.9"/>
<line x1="192.40" y1="634.79" x2="196.00" y2="634.79" stroke="#222" stroke-width="0.9"/>
<line x1="192.40" y1="623.42" x2="196.00" y2="623.42" stroke="#222" stroke-width="0.9"/>
<line x1="192.40" y1="612.05" x2="196.00" y2="612.05" stroke="#222" stroke-width="0.9"/>
<line x1="192.40" y1="600.68" x2="196.00" y2="600.68" stroke="#222" stroke-width="0.9"/>
<line x1="192.40" y1="589.31" x2="196.00" y2="589.31" stroke="#222" stroke-width="0.9"/>
<line x1="192.40" y1="577.94" x2="196.00" y2="577.94" stroke="#222" stroke-width="0.9"/>
<line x1="192.40" y1="566.57" x2="196.00" y2="566.57" stroke="#222" stroke-width="0.9"/>
<line x1="192.40" y1="555.20" x2="196.00" y2="555.20" stroke="#222" stroke-width="0.9"/>
<line x1="208.00" y1="674.50" x2="208.00" y2="677.90" stroke="#222" stroke-width="0.9"/>
<line x1="328.80" y1="674.50" x2="328.80" y2="677.90" stroke="#222" stroke-width="0.9"/>
<text x="208.00" y="687.80" font-size="7" text-anchor="middle" fill="#1c1c1c">CLL</text>
<text x="328.80" y="687.80" font-size="7" text-anchor="middle" fill="#1c1c1c">RS</text>
<rect x="353.80" y="550.00" width="144.20" height="124.50" fill="none" stroke="#000" stroke-width="1.3"/>
<line x1="350.20" y1="668.90" x2="353.80" y2="668.90" stroke="#222" stroke-width="0.9"/>
<line x1="350.20" y1="657.53" x2="353.80" y2="657.53" stroke="#222" stroke-width="0.9"/>
<line x1="350.20" y1="646.16" x2="353.80" y2="646.16" stroke="#222" stroke-width="0.9"/>
<line x1="350.20" y1="634.79" x2="353.80" y2="634.79" stroke="#222" stroke-width="0.9"/>
<line x1="350.20" y1="623.42" x2="353.80" y2="623.42" stroke="#222" stroke-width="0.9"/>
<line x1="350.20" y1="612.05" x2="353.80" y2="612.05" stroke="#222" stroke-width="0.9"/>
<line x1="350.20" y1="600.68" x2="353.80" y2="600.68" stroke="#222" stroke-width="0.9"/>
<line x1="350.20" y1="589.31" x2="353.80" y2="589.31" stroke="#222" stroke-width="0.9"/>
<line x1="350.20" y1="577.94" x2="353.80" y2="577.94" stroke="#222" stroke-width="0.9"/>
<line x1="350.20" y1="566.57" x2="353.80" y2="566.57" stroke="#222" stroke-width="0.9"/>
<line x1="350.20" y1="555.20" x2="353.80" y2="555.20" stroke="#222" stroke-width="0.9"/>
<line x1="365.80" y1="674.50" x2="365.80" y2="677.90" stroke="#222" stroke-width="0.9"/>
<line x1="486.40" y1="674.50" x2="486.40" y2="677.90" stroke="#222" stroke-width="0.9"/>
<text x="365.80" y="687.80" font-size="7" text-anchor="middle" fill="#1c1c1c">CLL</text>
<text x="486.40" y="687.80" font-size="7" text-anchor="middle" fill="#1c1c1c">RS</text>
<text x="31.20" y="671.00" font-size="7.1" text-anchor="end" fill="#1c1c1c">0.0</text>
<text x="31.20" y="659.63" font-size="7.1" text-anchor="end" fill="#1c1c1c">0.1</text>
<text x="31.20" y="648.26" font-size="7.1" text-anchor="end" fill="#1c1c1c">0.2</text>
<text x="31.20" y="636.89" font-size="7.1" text-anchor="end" fill="#1c1c1c">0.3</text>
<text x="31.20" y="625.52" font-size="7.1" text-anchor="end" fill="#1c1c1c">0.4</text>
<text x="31.20" y="614.15" font-size="7.1" text-anchor="end" fill="#1c1c1c">0.5</text>
<text x="31.20" y="602.78" font-size="7.1" text-anchor="end" fill="#1c1c1c">0.6</text>
<text x="31.20" y="591.41" font-size="7.1" text-anchor="end" fill="#1c1c1c">0.7</text>
<text x="31.20" y="580.04" font-size="7.1" text-anchor="end" fill="#1c1c1c">0.8</text>
<text x="31.20" y="568.67" font-size="7.1" text-anchor="end" fill="#1c1c1c">0.9</text>
<text x="31.20" y="557.30" font-size="7.1" text-anchor="end" fill="#1c1c1c">1.0</text>
<text x="268.20" y="700.80" font-size="9.5" text-anchor="middle" fill="#1c1c1c" textLength="19.7" lengthAdjust="spacingAndGlyphs">Phase</text>
<text x="16.20" y="542.60" font-size="9.5" text-anchor="middle" fill="#1c1c1c" textLength="62" lengthAdjust="spacingAndGlyphs" transform="rotate(-90 16.20 542.60)">Cancer cell fraction</text>
<text x="100.80" y="725.60" font-size="7" text-anchor="start" fill="#1c1c1c">genes</text>
<line x1="129.60" y1="717.20" x2="141.10" y2="717.20" stroke="#245c40" stroke-width="1.15" stroke-opacity="0.8"/>
<circle cx="135.35" cy="717.20" r="1.6" fill="#245c40"/>
<text x="144.50" y="719.40" font-size="7.1" text-anchor="start" fill="#1c1c1c">BRAF</text>
<line x1="129.60" y1="731.40" x2="141.10" y2="731.40" stroke="#5c3514" stroke-width="1.15" stroke-opacity="0.8"/>
<circle cx="135.35" cy="731.40" r="1.6" fill="#5c3514"/>
<text x="144.50" y="733.60" font-size="7.1" text-anchor="start" fill="#1c1c1c">CACNA1D</text>
<line x1="189.60" y1="717.20" x2="201.10" y2="717.20" stroke="#b80f2e" stroke-width="1.15" stroke-opacity="0.8"/>
<circle cx="195.35" cy="717.20" r="1.6" fill="#b80f2e"/>
<text x="204.50" y="719.40" font-size="7.1" text-anchor="start" fill="#1c1c1c">CACNA1E</text>
<line x1="189.60" y1="731.40" x2="201.10" y2="731.40" stroke="#213f86" stroke-width="1.15" stroke-opacity="0.8"/>
<circle cx="195.35" cy="731.40" r="1.6" fill="#213f86"/>
<text x="204.50" y="733.60" font-size="7.1" text-anchor="start" fill="#1c1c1c">CACNA1H</text>
<line x1="248.90" y1="717.20" x2="260.40" y2="717.20" stroke="#7d72cc" stroke-width="1.15" stroke-opacity="0.8"/>
<circle cx="254.65" cy="717.20" r="1.6" fill="#7d72cc"/>
<text x="263.80" y="719.40" font-size="7.1" text-anchor="start" fill="#1c1c1c">DUSP2</text>
<line x1="248.90" y1="731.40" x2="260.40" y2="731.40" stroke="#c8127e" stroke-width="1.15" stroke-opacity="0.8"/>
<circle cx="254.65" cy="731.40" r="1.6" fill="#c8127e"/>
<text x="263.80" y="733.60" font-size="7.1" text-anchor="start" fill="#1c1c1c">DUSP5</text>
<line x1="297.10" y1="717.20" x2="308.60" y2="717.20" stroke="#a2b37a" stroke-width="1.15" stroke-opacity="0.8"/>
<circle cx="302.85" cy="717.20" r="1.6" fill="#a2b37a"/>
<text x="312.00" y="719.40" font-size="7.1" text-anchor="start" fill="#1c1c1c">GNA12</text>
<line x1="297.10" y1="731.40" x2="308.60" y2="731.40" stroke="#42a02c" stroke-width="1.15" stroke-opacity="0.8"/>
<circle cx="302.85" cy="731.40" r="1.6" fill="#42a02c"/>
<text x="312.00" y="733.60" font-size="7.1" text-anchor="start" fill="#1c1c1c">KRAS</text>
<line x1="346.00" y1="717.20" x2="357.50" y2="717.20" stroke="#ecb80a" stroke-width="1.15" stroke-opacity="0.8"/>
<circle cx="351.75" cy="717.20" r="1.6" fill="#ecb80a"/>
<text x="360.90" y="719.40" font-size="7.1" text-anchor="start" fill="#1c1c1c">MUTYH</text>
<line x1="346.00" y1="731.40" x2="357.50" y2="731.40" stroke="#de8210" stroke-width="1.15" stroke-opacity="0.8"/>
<circle cx="351.75" cy="731.40" r="1.6" fill="#de8210"/>
<text x="360.90" y="733.60" font-size="7.1" text-anchor="start" fill="#1c1c1c">PRKCB</text>
<line x1="395.30" y1="717.20" x2="406.80" y2="717.20" stroke="#a0602a" stroke-width="1.15" stroke-opacity="0.8"/>
<circle cx="401.05" cy="717.20" r="1.6" fill="#a0602a"/>
<text x="410.20" y="719.40" font-size="7.1" text-anchor="start" fill="#1c1c1c">RPS27A</text>
<line x1="395.30" y1="731.40" x2="406.80" y2="731.40" stroke="#c2c1c6" stroke-width="1.15" stroke-opacity="0.8"/>
<circle cx="401.05" cy="731.40" r="1.6" fill="#c2c1c6"/>
<text x="410.20" y="733.60" font-size="7.1" text-anchor="start" fill="#1c1c1c">TP53</text>
</svg></div>
</body></html>
